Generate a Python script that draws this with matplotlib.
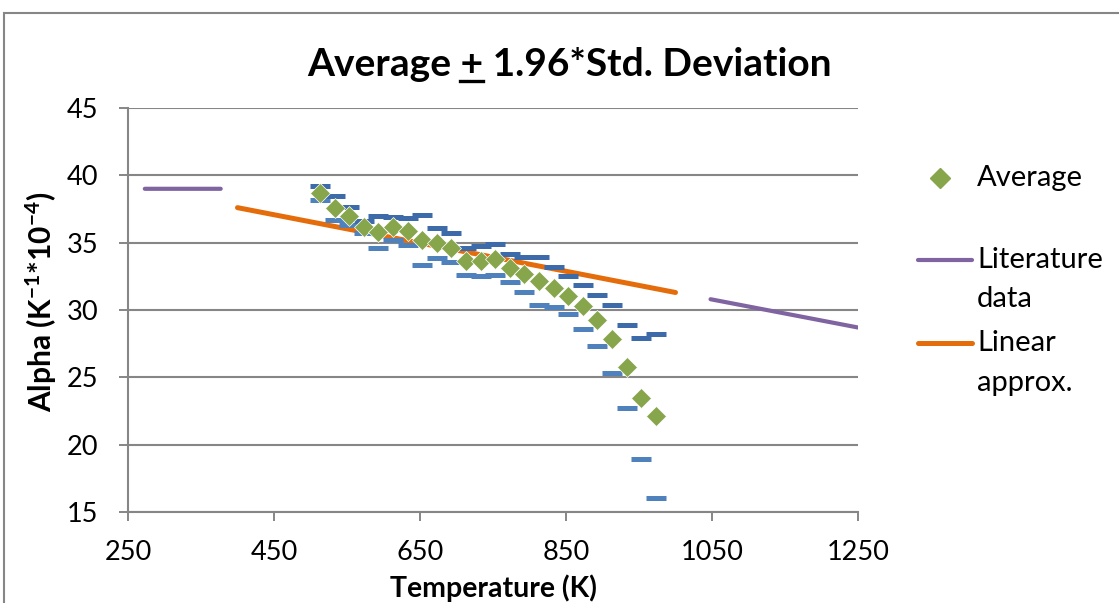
import numpy as np
import matplotlib
matplotlib.use("Agg")
import matplotlib.pyplot as plt
from matplotlib.lines import Line2D
from matplotlib.patches import Rectangle

plt.rcParams['font.family'] = ['Lato', 'DejaVu Sans']
plt.rcParams['mathtext.fontset'] = 'custom'
plt.rcParams['mathtext.rm'] = 'Lato'
plt.rcParams['mathtext.bf'] = 'Lato:bold'
plt.rcParams['mathtext.it'] = 'Lato:italic'

# measured temperatures (K)
temp = [513, 533, 553, 573, 593, 613, 633, 653, 673, 693, 713, 733,
        753, 773, 793, 813, 833, 853, 873, 893, 913, 933, 953, 973]
# average alpha
avg = [38.67, 37.58, 36.98, 36.17, 35.82, 36.14, 35.87, 35.20, 34.96, 34.63, 33.61, 33.61,
       33.77, 33.10, 32.68, 32.16, 31.61, 31.04, 30.26, 29.26, 27.83, 25.80, 23.45, 22.13]
# average + 1.96*sd
upper = [39.23, 38.47, 37.67, 36.62, 36.98, 36.93, 36.83, 37.05, 36.07, 35.70, 34.63, 34.78,
         34.88, 34.14, 33.96, 33.96, 33.22, 32.53, 31.86, 31.12, 30.37, 28.89, 27.90, 28.22]
# average - 1.96*sd
lower = [38.17, 36.68, 36.31, 35.72, 34.58, 35.20, 34.83, 33.34, 33.88, 33.54, 32.60, 32.53,
         32.60, 32.06, 31.36, 30.37, 30.25, 29.70, 28.59, 27.33, 25.30, 22.70, 18.94, 16.02]

# literature data (two pieces)
lit_t = [273, 377, np.nan, 1048, 1250]
lit_a = [39.0, 39.0, np.nan, 30.8, 28.7]

# linear approximation
lin_t = [400, 1000]
lin_a = [37.6, 31.3]

grey = '#868686'
W, H = 1119, 603
fig = plt.figure(figsize=(11.19, 6.03), dpi=100)
ax = fig.add_axes([128 / W, 1 - 512 / H, 730 / W, 404 / H])

ax.plot(lit_t, lit_a, color='#8064A2', lw=3, solid_capstyle='round', zorder=3)
ax.plot(lin_t, lin_a, color='#E46C0A', lw=3.6, solid_capstyle='round', zorder=3)
ax.plot(temp, lower, ls='none', marker='_', ms=14.5, mew=3.6, color='#4F81BD', zorder=4)
ax.plot(temp, upper, ls='none', marker='_', ms=14.5, mew=3.6, color='#3D6AA8', zorder=4)
ax.plot(temp, avg, ls='none', marker='D', ms=10, color='#87A54B', mec='white', mew=0.5, zorder=5)

ax.set_xlim(250, 1250)
ax.set_ylim(15, 45)
ax.set_xticks([250, 450, 650, 850, 1050, 1250])
ax.set_yticks([15, 20, 25, 30, 35, 40, 45])
ax.tick_params(labelsize=19.5, length=6.5, width=1.4, color=grey)
ax.tick_params(axis='y', pad=15)
ax.tick_params(axis='x', pad=14)
ax.yaxis.grid(True, color=grey, lw=1.5)
ax.set_axisbelow(True)
for s in ['top', 'right']:
    ax.spines[s].set_visible(False)
for s in ['left', 'bottom']:
    ax.spines[s].set_color(grey)
    ax.spines[s].set_linewidth(1.5)

ax.set_xlabel('Temperature (K)', fontsize=20.5, fontweight='bold', va='center')
ax.xaxis.set_label_coords(0.5, -0.188)
ax.set_ylabel(r'Alpha (K$^{\mathbf{-1}}$*10$^{\mathbf{-4}}$)', fontsize=21.5, fontweight='bold', va='center')
ax.yaxis.set_label_coords(-0.119, 0.52)

# title, with the "+" underlined
title = 'Average + 1.96*Std. Deviation'
tt = fig.text(569 / W, 1 - 76 / H, title, fontsize=28, fontweight='bold', ha='center', va='baseline')
r = fig.canvas.get_renderer()
bb = tt.get_window_extent(r)
m1 = fig.text(0, 0, 'Average +', fontsize=28, fontweight='bold')
m2 = fig.text(0, 0, '+', fontsize=28, fontweight='bold')
w1 = m1.get_window_extent(r).width
w2 = m2.get_window_extent(r).width
m1.remove()
m2.remove()
ux1 = bb.x0 + w1 - w2
ux2 = bb.x0 + w1
uy = tt.get_position()[1] * H - 5
fig.add_artist(Line2D([ux1 / W, ux2 / W], [uy / H, uy / H], color='black', lw=2.4))

# legend drawn by hand
fig.add_artist(Line2D([940 / W], [1 - 178 / H], marker='D', ms=10, color='#87A54B', ls='none'))
fig.add_artist(Line2D([918 / W, 972 / W], [1 - 260 / H] * 2, color='#8064A2', lw=3, solid_capstyle='round'))
fig.add_artist(Line2D([918 / W, 972 / W], [1 - 343 / H] * 2, color='#E46C0A', lw=3.6, solid_capstyle='round'))
for txt, y in [('Average', 178), ('Literature', 260), ('data', 299), ('Linear', 343), ('approx.', 383)]:
    fig.text(977 / W, 1 - y / H, txt, fontsize=21, ha='left', va='center')

# outer chart border
fig.add_artist(Rectangle((4 / W, -0.1), 1.2, 1 - 13 / H + 0.1, fill=False,
                         edgecolor=grey, lw=1.5, transform=fig.transFigure))

fig.savefig('out.png', dpi=100)
